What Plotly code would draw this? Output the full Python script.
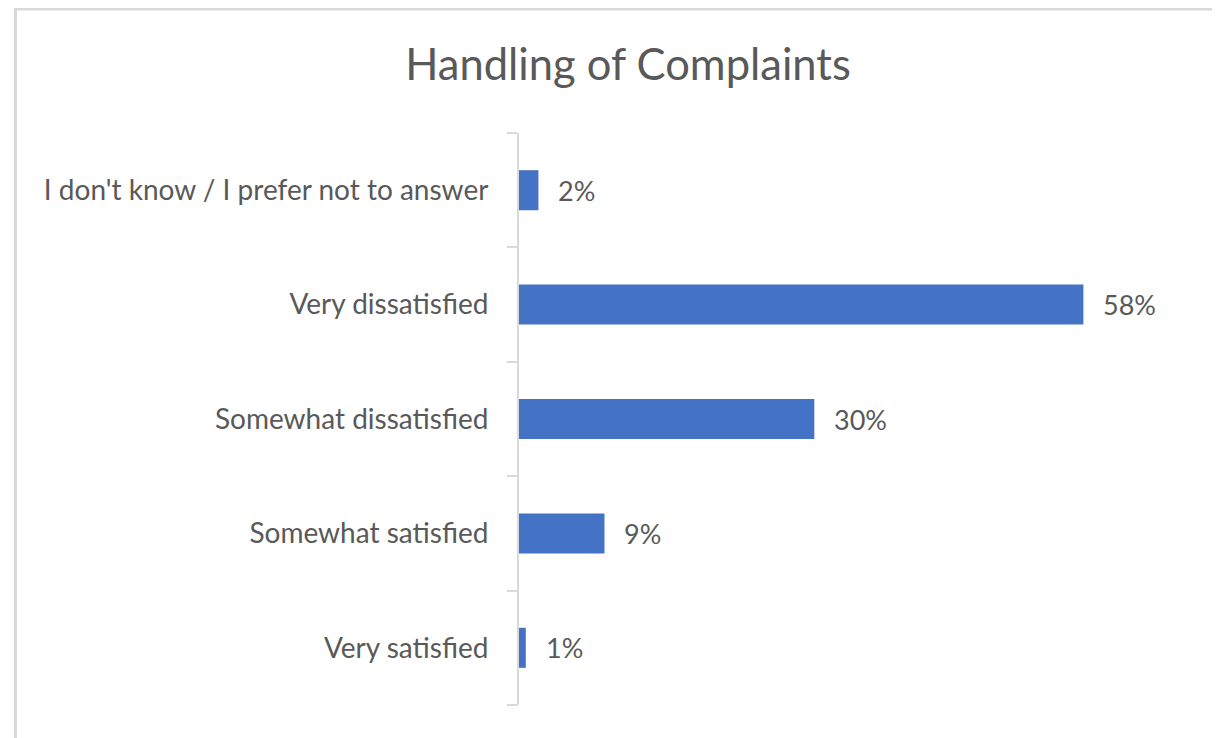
import plotly.graph_objects as go

categories = ["Very satisfied", "Somewhat satisfied", "Somewhat dissatisfied",
              "Very dissatisfied", "I don't know / I prefer not to answer"]
values = [0.7, 8.8, 30.4, 58.1, 2.0]
labels = [f"{round(v)}%" for v in values]

FONT = "Lato"
TXT = "#595959"
GRID = "#d9d9d9"

fig = go.Figure(go.Bar(
    x=values, y=categories, orientation="h",
    marker=dict(color="#4472C4", line=dict(width=0)),
    hoverinfo="skip",
))

for v, c, t in zip(values, categories, labels):
    fig.add_annotation(x=v, y=c, text=t, showarrow=False, xanchor="left",
                       xshift=18, font=dict(family=FONT, size=27, color=TXT))

# page has an 8px body margin; figure coordinates = page - 8
OFF = 8
W, H = 1220 - OFF, 738 - OFF
L = 519 - OFF
T = 133 - OFF
B = H - (705 - OFF)
R = W - (1199 - OFF)
pw = W - L - R
ph = H - T - B

def px_x(p):
    return (p - OFF - L) / pw

def px_y(p):
    return (H - B - (p - OFF)) / ph

fig.add_shape(type="line", xref="paper", yref="paper",
              x0=px_x(15), x1=px_x(1240), y0=px_y(9), y1=px_y(9),
              line=dict(color=GRID, width=3))
fig.add_shape(type="line", xref="paper", yref="paper",
              x0=px_x(15.5), x1=px_x(15.5), y0=px_y(8), y1=px_y(760),
              line=dict(color=GRID, width=3))

fig.update_layout(
    width=W, height=H,
    margin=dict(l=L, r=R, t=T, b=B, autoexpand=False),
    paper_bgcolor="white", plot_bgcolor="white",
    bargap=0.65,
    showlegend=False,
    title=dict(text="Handling of Complaints", x=(628 - OFF) / W, xanchor="center",
               y=1 - (65 - OFF) / H, yanchor="middle", yref="container",
               font=dict(family=FONT, size=43.5, color=TXT)),
    xaxis=dict(range=[0, 70], visible=False, fixedrange=True),
    yaxis=dict(type="category", showline=True, linecolor=GRID, linewidth=2,
               ticks="outside", ticklen=10, tickcolor=GRID, tickwidth=2,
               tickson="boundaries", showgrid=False, zeroline=False,
               tickfont=dict(family=FONT, size=28, color=TXT),
               ticklabelstandoff=23, fixedrange=True),
)

fig.write_html("out.html")
